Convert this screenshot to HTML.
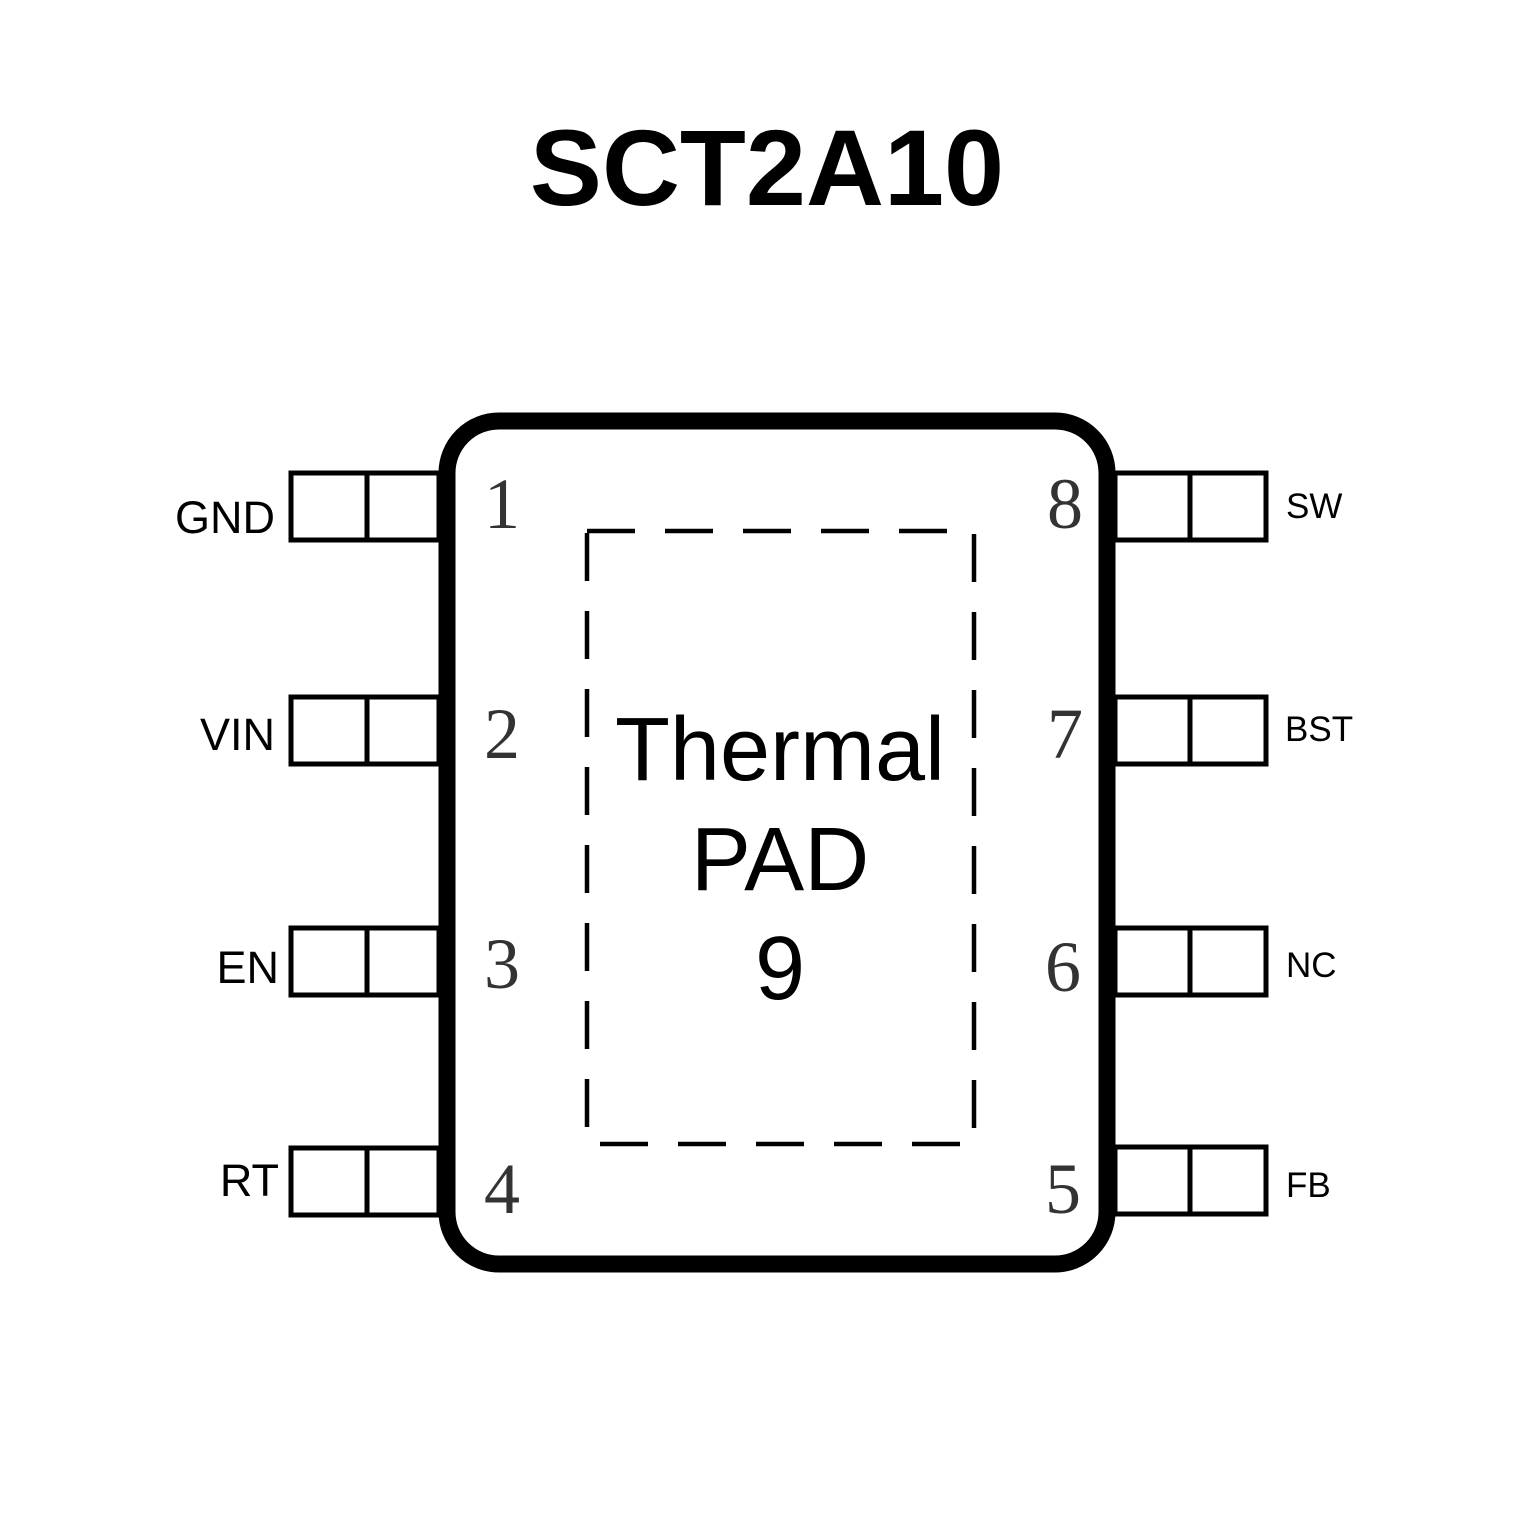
<!DOCTYPE html>
<html><head><meta charset="utf-8"><style>html,body{margin:0;padding:0;background:#fff}</style></head>
<body>
<svg width="1535" height="1535" viewBox="0 0 1535 1535" xmlns="http://www.w3.org/2000/svg">
<rect width="1535" height="1535" fill="#fff"/>
<text x="767" y="205" text-anchor="middle" font-family="Liberation Sans, sans-serif" font-weight="bold" font-size="108" fill="#000">SCT2A10</text>
<g fill="none" stroke="#000" stroke-width="5">
<rect x="291" y="473" width="148" height="67"/><line x1="367" y1="473" x2="367" y2="540"/>
<rect x="291" y="697" width="148" height="67"/><line x1="367" y1="697" x2="367" y2="764"/>
<rect x="291" y="928" width="148" height="67"/><line x1="367" y1="928" x2="367" y2="995"/>
<rect x="291" y="1148" width="148" height="67"/><line x1="367" y1="1148" x2="367" y2="1215"/>
<rect x="1115" y="473" width="151" height="67"/><line x1="1190" y1="473" x2="1190" y2="540"/>
<rect x="1115" y="697" width="151" height="67"/><line x1="1190" y1="697" x2="1190" y2="764"/>
<rect x="1115" y="928" width="151" height="67"/><line x1="1190" y1="928" x2="1190" y2="995"/>
<rect x="1115" y="1147" width="151" height="67"/><line x1="1190" y1="1147" x2="1190" y2="1214"/>
</g>
<rect x="447" y="421" width="660" height="843" rx="52" fill="#fff" stroke="#000" stroke-width="17"/>
<rect x="587" y="531" width="387" height="613" fill="none" stroke="#000" stroke-width="4.5" stroke-dasharray="48 30"/>
<g font-family="Liberation Sans, sans-serif" fill="#000" font-size="45">
<text x="275" y="533" text-anchor="end">GND</text>
<text x="275" y="750" text-anchor="end">VIN</text>
<text x="279" y="983" text-anchor="end">EN</text>
<text x="279" y="1196" text-anchor="end">RT</text>
</g>
<g font-family="Liberation Sans, sans-serif" fill="#000" font-size="35">
<text x="1286" y="518">SW</text>
<text x="1285" y="741">BST</text>
<text x="1286" y="977">NC</text>
<text x="1286" y="1197">FB</text>
</g>
<g font-family="Liberation Serif, serif" fill="#333" font-size="72" text-anchor="middle">
<text x="502" y="528">1</text>
<text x="502" y="758">2</text>
<text x="502" y="988">3</text>
<text x="502" y="1213">4</text>
<text x="1065" y="528">8</text>
<text x="1065" y="758">7</text>
<text x="1063" y="991">6</text>
<text x="1063" y="1213">5</text>
</g>
<g font-family="Liberation Sans, sans-serif" fill="#000" font-size="90" text-anchor="middle">
<text x="780" y="780">Thermal</text>
<text x="780" y="890">PAD</text>
<text x="780" y="999">9</text>
</g>
</svg>
</body></html>
